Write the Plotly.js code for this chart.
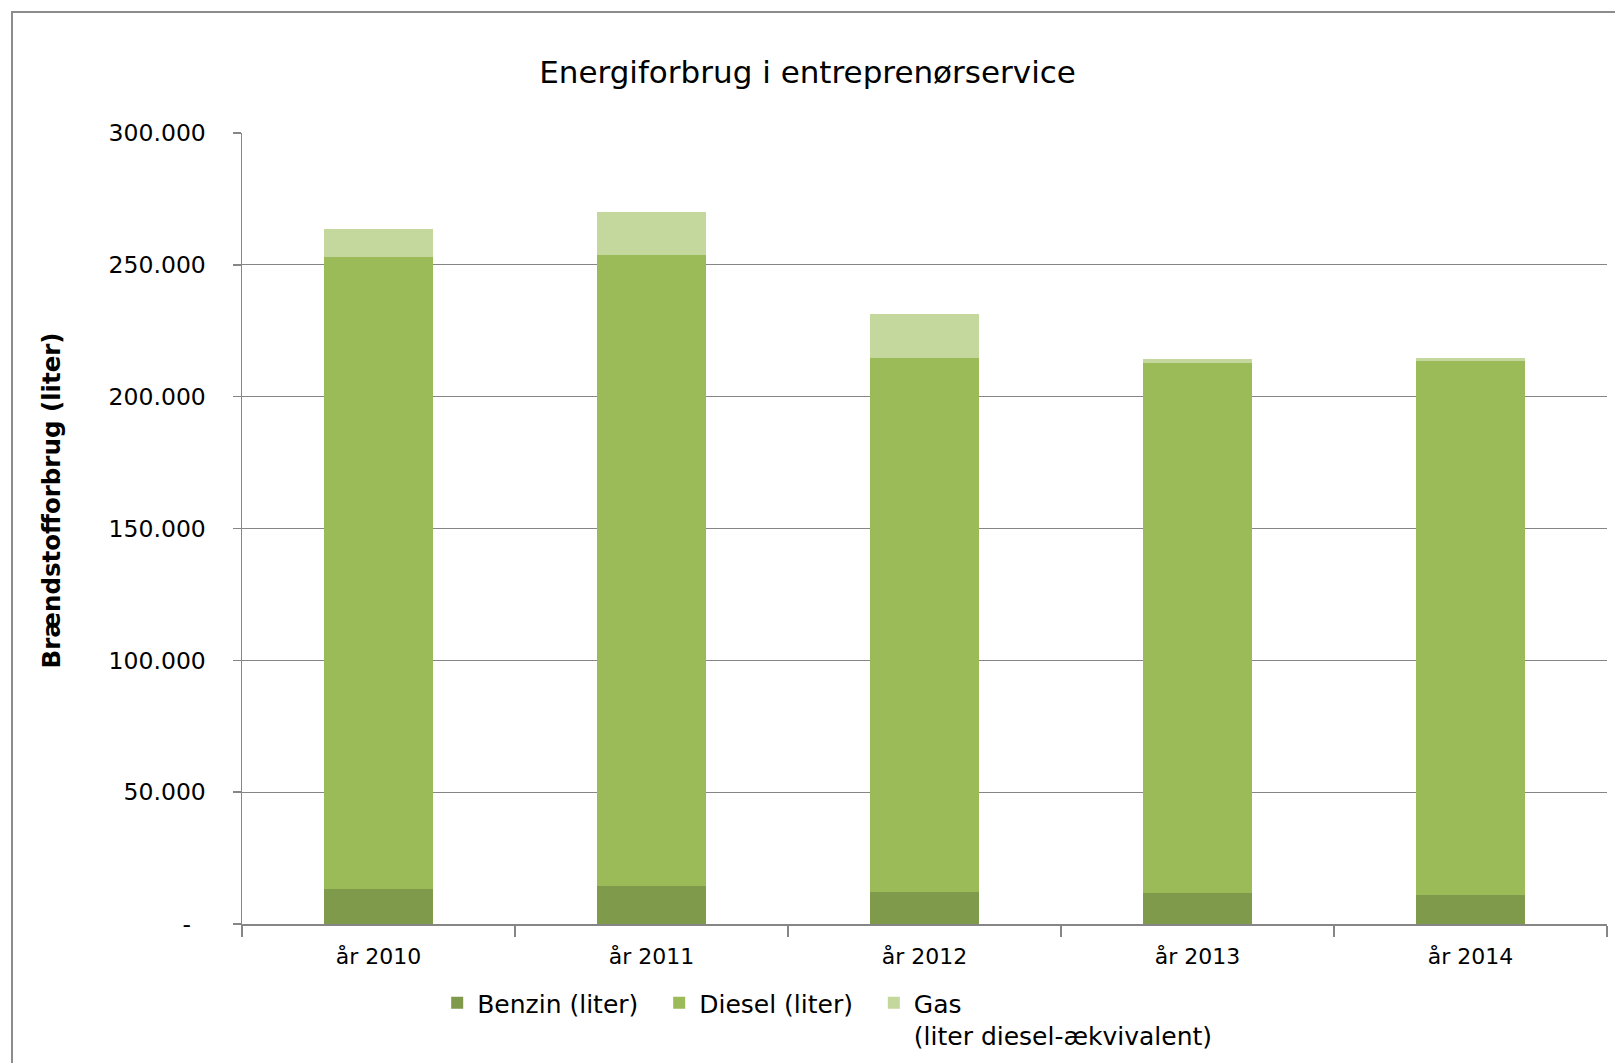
<!DOCTYPE html>
<html>
<head>
<meta charset="utf-8">
<script src="https://cdn.plot.ly/plotly-3.0.1.min.js"></script>
<style>
  html, body { margin: 0; padding: 0; background: #ffffff; overflow: hidden; }
  #chart { width: 1615px; height: 1063px; }
  #frame { position: absolute; left: 11px; top: 11px; width: 1700px; height: 1200px;
           border: 2px solid #8c8c8c; pointer-events: none; box-sizing: border-box; }
</style>
</head>
<body>
<div id="chart"></div>
<div id="frame"></div>
<script>
const categories = ["år 2010", "år 2011", "år 2012", "år 2013", "år 2014"];
const benzin = [13400, 14500, 12300, 11900, 10900];
const diesel = [239700, 239200, 202500, 201000, 202800];
const gas = [10600, 16500, 16600, 1400, 1100];
const seriesNames = ["Benzin (liter)", "Diesel (liter)", "Gas<br>(liter diesel-ækvivalent)"];
const yTickVals = [0, 50000, 100000, 150000, 200000, 250000, 300000];
const yTickText = ["-\u00a0\u00a0", "50.000", "100.000", "150.000", "200.000", "250.000", "300.000"];

const font = "DejaVu Sans, Verdana, sans-serif";
const pad = "\u00a0\u00a0";

const traces = [
  { type: "bar", name: seriesNames[0] + pad, x: categories, y: benzin,
    marker: { color: "#7e9a4a" }, hoverinfo: "y" },
  { type: "bar", name: seriesNames[1] + pad, x: categories, y: diesel,
    marker: { color: "#9bbb59" }, hoverinfo: "y" },
  { type: "bar", name: seriesNames[2], x: categories, y: gas,
    marker: { color: "#c4d79d" }, hoverinfo: "y" }
];

const layout = {
  width: 1615, height: 1063,
  paper_bgcolor: "#ffffff", plot_bgcolor: "#ffffff",
  margin: { l: 242, r: 8, t: 133, b: 139, pad: 0, autoexpand: false },
  barmode: "stack",
  bargap: 0.6,
  font: { family: font, color: "#000000", size: 22 },
  title: { text: "Energiforbrug i entreprenørservice", x: 0.5, xanchor: "center",
           y: 1 - 72 / 1063, yanchor: "middle",
           font: { family: font, size: 31, color: "#000000" } },
  xaxis: {
    type: "category",
    showline: true, linecolor: "#868686", linewidth: 1.5,
    ticks: "outside", tickson: "boundaries", ticklen: 11, tickcolor: "#868686", tickwidth: 1.5,
    ticklabelstandoff: 12,
    tickfont: { family: font, size: 22, color: "#000000" },
    showgrid: false, zeroline: false, fixedrange: true
  },
  yaxis: {
    range: [0, 300000],
    tickvals: yTickVals, ticktext: yTickText,
    showline: true, linecolor: "#868686", linewidth: 1.5,
    ticks: "outside", ticklen: 8, tickcolor: "#868686", tickwidth: 1.5,
    ticklabelstandoff: 22,
    tickfont: { family: font, size: 23.5, color: "#000000" },
    showgrid: true, gridcolor: "#868686", gridwidth: 1.3,
    zeroline: false, fixedrange: true
  },
  annotations: [{
    text: "<b>Brændstofforbrug (liter)</b>", textangle: -90,
    xref: "paper", yref: "paper", x: (51.5 - 242) / 1365, y: (924 - 501.5) / 790,
    xanchor: "center", yanchor: "middle", showarrow: false,
    font: { family: font, size: 24.5, color: "#000000" }
  }],
  showlegend: true,
  legend: {
    orientation: "h", x: 0.143, xanchor: "left",
    yref: "container", y: 1 - 980 / 1063, yanchor: "top",
    font: { family: font, size: 25, color: "#000000" },
    traceorder: "normal", itemwidth: 30, valign: "top",
    bgcolor: "rgba(0,0,0,0)"
  }
};

Plotly.newPlot("chart", traces, layout, { displayModeBar: false, staticPlot: true });
</script>
</body>
</html>
